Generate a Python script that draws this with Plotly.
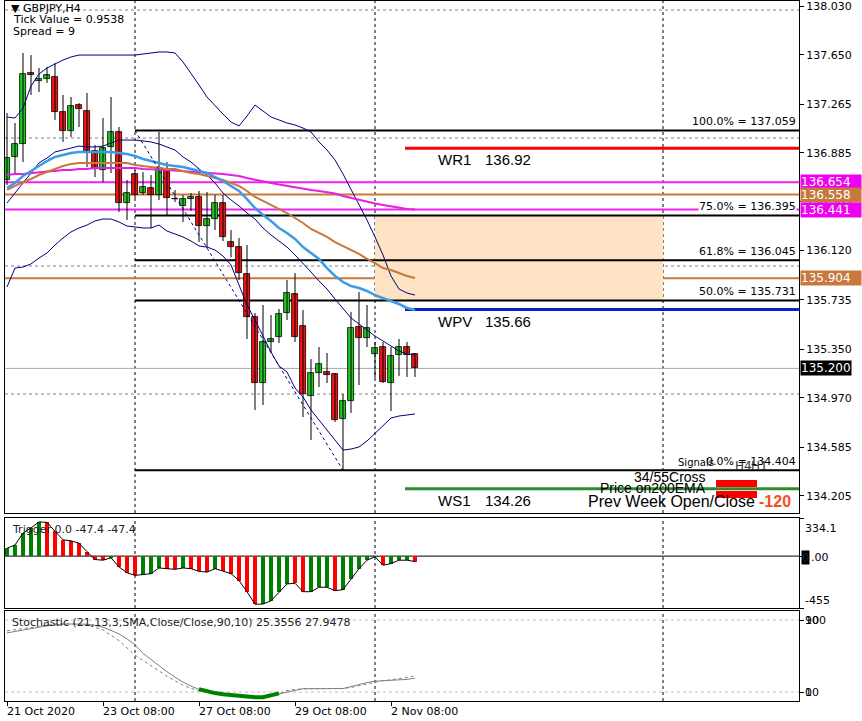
import plotly.graph_objects as go

# ---------------- data ----------------
bars = list(range(52))
time_labels = ["21 Oct 2020", "23 Oct 08:00", "27 Oct 08:00", "29 Oct 08:00", "2 Nov 08:00"]
time_label_bars = [0, 12, 24, 36, 48]
separator_bars = [16, 46, 82]

opens = [136.672, 136.852, 136.953, 137.508, 137.445, 137.461, 137.477, 137.203, 137.055, 137.258,
         137.211, 136.898, 136.750, 136.930, 137.047, 136.492, 136.719, 136.570, 136.609, 136.555,
         136.758, 136.523, 136.469, 136.523, 136.539, 136.313, 136.367, 136.492, 136.188, 136.148,
         135.938, 135.602, 135.086, 135.406, 135.445, 135.633, 135.781, 135.531, 134.984, 135.164,
         135.172, 135.156, 134.805, 134.945, 135.523, 135.438, 135.313, 135.367, 135.086, 135.305,
         135.367, 135.313]
highs = [137.195, 137.117, 137.664, 137.648, 137.547, 137.555, 137.586, 137.336, 137.320, 137.273,
         137.352, 136.945, 137.156, 137.320, 137.086, 136.672, 136.750, 136.734, 136.711, 137.047,
         136.813, 136.594, 136.555, 136.570, 136.586, 136.578, 136.555, 136.555, 136.281, 136.219,
         136.164, 135.633, 135.695, 135.617, 135.664, 135.891, 135.945, 135.656, 135.273, 135.367,
         135.320, 135.164, 135.000, 135.641, 135.797, 135.695, 135.406, 135.406, 135.367, 135.430,
         135.406, 135.320]
lows = [136.633, 136.727, 136.813, 137.336, 137.359, 137.430, 137.141, 136.969, 137.008, 137.086,
        136.773, 136.695, 136.656, 136.727, 136.422, 136.359, 136.531, 136.555, 136.297, 136.516,
        136.398, 136.500, 136.344, 136.430, 136.188, 136.141, 136.281, 136.195, 136.070, 135.891,
        135.430, 134.875, 134.914, 135.328, 135.398, 135.578, 135.406, 134.820, 134.641, 135.055,
        135.086, 134.781, 134.404, 134.852, 135.070, 135.367, 135.125, 135.086, 134.867, 135.141,
        135.133, 135.133]
closes = [136.844, 136.953, 137.500, 137.492, 137.461, 137.492, 137.203, 137.055, 137.250, 137.227,
          136.898, 136.758, 136.922, 137.047, 136.492, 136.570, 136.555, 136.617, 136.555, 136.766,
          136.531, 136.523, 136.523, 136.539, 136.313, 136.367, 136.492, 136.227, 136.148, 135.945,
          135.602, 135.086, 135.406, 135.430, 135.625, 135.789, 135.445, 135.000, 135.164, 135.234,
          135.148, 134.797, 134.945, 135.516, 135.438, 135.516, 135.359, 135.094, 135.297, 135.367,
          135.305, 135.200]

bb_upper = [137.164, 137.156, 137.234, 137.406, 137.500, 137.547, 137.578, 137.609, 137.633, 137.648,
            137.648, 137.648, 137.648, 137.648, 137.648, 137.648, 137.648, 137.656, 137.664, 137.672,
            137.672, 137.664, 137.594, 137.508, 137.414, 137.320, 137.250, 137.187, 137.125, 137.094,
            137.172, 137.258, 137.211, 137.164, 137.141, 137.117, 137.102, 137.078, 137.047, 136.969,
            136.906, 136.828, 136.719, 136.602, 136.477, 136.359, 136.227, 136.086, 135.922, 135.820,
            135.789, 135.773]
bb_middle = [136.492, 136.570, 136.641, 136.727, 136.805, 136.844, 136.891, 136.906, 136.922, 136.937,
             136.930, 136.930, 136.937, 136.961, 136.984, 136.984, 136.984, 136.977, 136.969, 136.953,
             136.930, 136.906, 136.852, 136.812, 136.758, 136.711, 136.648, 136.570, 136.516, 136.469,
             136.414, 136.367, 136.297, 136.242, 136.195, 136.148, 136.086, 136.023, 135.953, 135.883,
             135.820, 135.742, 135.664, 135.594, 135.547, 135.500, 135.453, 135.414, 135.375, 135.336,
             135.312, 135.305]
bb_lower = [135.836, 135.984, 135.992, 136.016, 136.062, 136.102, 136.164, 136.219, 136.266, 136.297,
            136.320, 136.352, 136.367, 136.367, 136.344, 136.312, 136.305, 136.297, 136.297, 136.320,
            136.273, 136.250, 136.227, 136.195, 136.156, 136.148, 136.125, 136.078, 136.008, 135.852,
            135.695, 135.578, 135.453, 135.328, 135.219, 135.172, 135.047, 134.977, 134.875, 134.797,
            134.719, 134.641, 134.562, 134.570, 134.586, 134.633, 134.695, 134.758, 134.812, 134.828,
            134.836, 134.844]
ema_blue = [136.609, 136.648, 136.703, 136.742, 136.781, 136.820, 136.852, 136.867, 136.883, 136.891,
            136.891, 136.891, 136.891, 136.891, 136.883, 136.875, 136.859, 136.836, 136.820, 136.805,
            136.789, 136.781, 136.773, 136.758, 136.742, 136.727, 136.695, 136.664, 136.625, 136.586,
            136.523, 136.453, 136.398, 136.352, 136.297, 136.258, 136.211, 136.148, 136.102, 136.055,
            135.984, 135.922, 135.875, 135.844, 135.828, 135.805, 135.773, 135.750, 135.727, 135.703,
            135.672, 135.656]
ema_orange = [136.594, 136.625, 136.656, 136.680, 136.711, 136.734, 136.758, 136.781, 136.797, 136.805,
              136.805, 136.805, 136.805, 136.805, 136.805, 136.805, 136.789, 136.781, 136.773, 136.766,
              136.758, 136.758, 136.742, 136.727, 136.719, 136.703, 136.687, 136.672, 136.648, 136.625,
              136.586, 136.539, 136.508, 136.477, 136.445, 136.414, 136.375, 136.336, 136.289, 136.258,
              136.227, 136.187, 136.156, 136.125, 136.094, 136.055, 136.023, 135.984, 135.969, 135.945,
              135.922, 135.906]
ema_magenta = [136.711, 136.719, 136.719, 136.727, 136.734, 136.738, 136.742, 136.750, 136.750, 136.758,
               136.758, 136.766, 136.766, 136.766, 136.766, 136.766, 136.766, 136.758, 136.758, 136.754,
               136.750, 136.746, 136.742, 136.738, 136.734, 136.727, 136.723, 136.719, 136.711, 136.703,
               136.687, 136.672, 136.660, 136.648, 136.637, 136.625, 136.613, 136.602, 136.594, 136.586,
               136.578, 136.566, 136.547, 136.531, 136.516, 136.500, 136.488, 136.477, 136.465, 136.453,
               136.445, 136.441]

price_ticks = [138.030, 137.650, 137.265, 136.885, 136.505, 136.120, 135.735, 135.350, 134.970, 134.585, 134.205]
grid_prices = [138.0, 137.0, 136.0, 135.0]

fib_names = ["100.0%", "75.0%", "61.8%", "50.0%", "0.0%"]
fib_values = [137.059, 136.395, 136.045, 135.731, 134.404]
fib_anchor_bars = [16, 42]
fib_box_bars = [46, 82]
fib_box_prices = [136.395, 135.731]

pivot_names = ["WR1", "WPV", "WS1"]
pivot_values = [136.92, 135.66, 134.26]
pivot_start_bar = 49.75

level_values = [136.654, 136.558, 136.441, 135.904]
current_price = 135.200

trigger = [68, 98, 202, 247, 300, 296, 217, 143, 134, 113,
           39, -30, -36, -15, -95, -146, -169, -163, -154, -104,
           -110, -116, -104, -110, -134, -140, -110, -134, -154, -214,
           -312, -422, -420, -392, -318, -244, -238, -312, -312, -273,
           -273, -303, -294, -199, -110, -36, -6, -80, -65, -36,
           -36, -47.4]
trigger_up = [1, 1, 1, 1, 1, 0, 0, 0, 0, 0,
              0, 0, 0, 1, 0, 0, 0, 1, 1, 1,
              0, 0, 1, 0, 0, 0, 1, 0, 0, 0,
              0, 0, 1, 1, 1, 1, 0, 0, 1, 1,
              1, 0, 1, 1, 1, 1, 1, 0, 1, 1,
              1, 0]
trigger_range = [-455, 334.1]

stoch_main = [75.6, 77, 78.5, 80.5, 82, 83.5, 84.5, 85.3, 85.5, 85.5,
              85.3, 84, 82, 78.5, 74.5, 69, 62.5, 53, 46, 39.5,
              32.5, 26.5, 21, 16.5, 13, 10.5, 8.8, 7.5, 6.6, 5.6,
              4.8, 4.2, 4.1, 6, 8.5, 10.5, 12.5, 13.6, 13.7, 13.7,
              13.7, 13.7, 13.8, 16, 18.3, 20.5, 22, 22.4, 22.6, 23,
              24, 25.3556]
stoch_signal = [78, 79, 80, 81.5, 83, 84.5, 85.5, 86, 86, 85.5,
                84.5, 82, 79, 73, 67, 59, 51, 45, 39.5, 33.5,
                27.4, 22, 17.5, 14, 11.5, 10, 9, 7.8, 6.8, 5.9,
                5.2, 4.6, 4.4, 5.5, 8, 11.5, 13, 13.7, 13.7, 13.7,
                13.7, 13.8, 14, 15, 17, 19.5, 21.5, 22.8, 23.5, 24.5,
                26.2, 27.9478]
stoch_oversold = [0] * 24 + [1] * 11 + [0] * 17
stoch_levels = [90, 10]

# ---------------- layout constants ----------------
W, H = 862, 721
ML, MR, MT, MB = 5, 63, 1, 20
PW, PH = W - ML - MR, H - MT - MB
X_RANGE = [-0.25, 99.0]
MAIN_DOM = [(701 - 513) / 700, 1.0]
SUB1_DOM = [(701 - 608) / 700, (701 - 518) / 700]
SUB2_DOM = [0.0, (701 - 611) / 700]
Y_MAIN = [134.0703, 138.0703]

FONT = "DejaVu Sans"
ARIAL = "Liberation Sans"

GREEN_C = "#22c822"
RED_C = "#f01414"
FINE_DASH = "3px,3px"


def px(xp):
    return (xp - ML) / PW


def py(yp):
    return (MT + PH - yp) / PH


fig = go.Figure()

# candle wicks
wx, wy = [], []
for i in bars:
    wx += [i, i, None]
    wy += [lows[i], highs[i], None]
fig.add_trace(go.Scatter(x=wx, y=wy, mode="lines", line=dict(color="black", width=1),
                         hoverinfo="skip", showlegend=False, xaxis="x", yaxis="y"))

# indicator lines on the main chart
for series in (bb_upper, bb_middle, bb_lower):
    fig.add_trace(go.Scatter(x=bars, y=series, mode="lines", line=dict(color="#000080", width=1),
                             showlegend=False, xaxis="x", yaxis="y"))
fig.add_trace(go.Scatter(x=bars, y=ema_magenta, mode="lines", line=dict(color="#e61ee6", width=2),
                         showlegend=False, xaxis="x", yaxis="y"))
fig.add_trace(go.Scatter(x=bars, y=ema_orange, mode="lines", line=dict(color="#c8783c", width=2),
                         showlegend=False, xaxis="x", yaxis="y"))
fig.add_trace(go.Scatter(x=bars, y=ema_blue, mode="lines", line=dict(color="#3c9be6", width=2.5),
                         showlegend=False, xaxis="x", yaxis="y"))
# fibo trend line (dotted)
fig.add_trace(go.Scatter(x=fib_anchor_bars, y=[fib_values[0], fib_values[-1]], mode="lines",
                         line=dict(color="#000080", width=1, dash=FINE_DASH),
                         showlegend=False, xaxis="x", yaxis="y"))

# candle bodies
up_x, up_b, up_h, dn_x, dn_b, dn_h = [], [], [], [], [], []
for i in bars:
    lo, hi = min(opens[i], closes[i]), max(opens[i], closes[i])
    h = max(hi - lo, 0.003)
    if closes[i] > opens[i]:
        up_x.append(i); up_b.append(lo); up_h.append(h)
    else:
        dn_x.append(i); dn_b.append(lo); dn_h.append(h)
fig.add_trace(go.Bar(x=up_x, y=up_h, base=up_b, width=0.66, marker=dict(color=GREEN_C, line=dict(color="black", width=0.8)),
                     showlegend=False, xaxis="x", yaxis="y"))
fig.add_trace(go.Bar(x=dn_x, y=dn_h, base=dn_b, width=0.66, marker=dict(color=RED_C, line=dict(color="black", width=0.8)),
                     showlegend=False, xaxis="x", yaxis="y"))

# ---- Trigger histogram ----
gx = [i for i in bars if trigger_up[i]]
rx = [i for i in bars if not trigger_up[i]]
fig.add_trace(go.Bar(x=gx, y=[trigger[i] for i in gx], width=0.42, marker=dict(color="#008000", line=dict(width=0)),
                     showlegend=False, xaxis="x2", yaxis="y2"))
fig.add_trace(go.Bar(x=rx, y=[trigger[i] for i in rx], width=0.42, marker=dict(color="#ff0000", line=dict(width=0)),
                     showlegend=False, xaxis="x2", yaxis="y2"))
fig.add_trace(go.Scatter(x=bars, y=trigger, mode="lines", line=dict(color="black", width=1),
                         showlegend=False, xaxis="x2", yaxis="y2"))

# ---- Stochastic ----
fig.add_trace(go.Scatter(x=bars, y=stoch_signal, mode="lines", line=dict(color="#808080", width=1, dash=FINE_DASH),
                         showlegend=False, xaxis="x3", yaxis="y3"))
fig.add_trace(go.Scatter(x=bars, y=stoch_main, mode="lines", line=dict(color="#808080", width=1),
                         showlegend=False, xaxis="x3", yaxis="y3"))
fig.add_trace(go.Scatter(x=bars, y=[v if f else None for v, f in zip(stoch_main, stoch_oversold)], mode="lines",
                         line=dict(color="#008000", width=4), showlegend=False, xaxis="x3", yaxis="y3"))

shapes = []
# fib zone rectangle
shapes.append(dict(type="rect", xref="x", yref="y", x0=fib_box_bars[0], x1=fib_box_bars[1],
                   y0=fib_box_prices[1], y1=fib_box_prices[0], fillcolor="#fde2c4", line=dict(width=0), layer="below"))
# grid
for g in grid_prices:
    shapes.append(dict(type="line", xref="x domain", yref="y", x0=0, x1=1, y0=g, y1=g,
                       line=dict(color="#808080", width=1, dash=FINE_DASH), layer="below"))
for s in separator_bars:
    for xr, yr in (("x", "y domain"), ("x2", "y2 domain"), ("x3", "y3 domain")):
        shapes.append(dict(type="line", xref=xr, yref=yr, x0=s, x1=s, y0=0, y1=1,
                           line=dict(color="black", width=1, dash=FINE_DASH), layer="below"))
# current price
shapes.append(dict(type="line", xref="x domain", yref="y", x0=0, x1=1, y0=current_price, y1=current_price,
                   line=dict(color="#a8a8a8", width=1), layer="below"))
# horizontal levels
level_cols = ["#f020f0", "#c8783c", "#f020f0", "#c8783c"]
for v, c in zip(level_values, level_cols):
    shapes.append(dict(type="line", xref="x domain", yref="y", x0=0, x1=1, y0=v, y1=v,
                       line=dict(color=c, width=2), layer="below"))
# fib levels
for v in fib_values:
    shapes.append(dict(type="line", xref="x", yref="y", x0=fib_anchor_bars[0], x1=X_RANGE[1], y0=v, y1=v,
                       line=dict(color="black", width=2), layer="below"))
# pivots
pivot_cols = ["#ff0000", "#0a1ed2", "#2e8b2e"]
for v, c in zip(pivot_values, pivot_cols):
    shapes.append(dict(type="line", xref="x", yref="y", x0=pivot_start_bar, x1=X_RANGE[1], y0=v, y1=v,
                       line=dict(color=c, width=3), layer="below"))
# trigger zero line
shapes.append(dict(type="line", xref="x2 domain", yref="y2", x0=0, x1=1, y0=0, y1=0,
                   line=dict(color="black", width=1), layer="below"))
# stoch levels
for lv in stoch_levels:
    shapes.append(dict(type="line", xref="x3 domain", yref="y3", x0=0, x1=1, y0=lv, y1=lv,
                       line=dict(color="#c0c0c0", width=1, dash=FINE_DASH), layer="below"))
# signal boxes
shapes.append(dict(type="rect", xref="paper", yref="paper", x0=px(716), x1=px(757), y0=py(487), y1=py(480),
                   fillcolor="#ff0000", line=dict(width=0), layer="above"))
shapes.append(dict(type="rect", xref="paper", yref="paper", x0=px(716), x1=px(757), y0=py(498), y1=py(491),
                   fillcolor="#ff0000", line=dict(width=0), layer="above"))

ann = []


def text_at(xp, yp, t, size=11, color="black", anchor="left", family=FONT, bg=None, bold=False):
    d = dict(xref="paper", yref="paper", x=px(xp), y=py(yp), text=("<b>%s</b>" % t) if bold else t,
             showarrow=False, xanchor=anchor, yanchor="middle", font=dict(family=family, size=size, color=color))
    if bg:
        d["bgcolor"] = bg
        d["borderpad"] = 0
    ann.append(d)


# top-left info
text_at(9, 8, "▼ GBPJPY,H4")
text_at(11, 20, "Tick Value = 0.9538")
text_at(11, 32, "Spread = 9")

# fib labels
for n, v in zip(fib_names, fib_values):
    d = dict(xref="x domain", yref="y", x=1, y=v, xanchor="right", yanchor="bottom", xshift=-2, yshift=1,
             text="%s = %.3f" % (n, v), showarrow=False, borderpad=0,
             font=dict(family=FONT, size=11, color="black"))
    if n != "0.0%":
        d["bgcolor"] = "white"
    ann.append(d)

# pivot labels
for n, v in zip(pivot_names, pivot_values):
    ann.append(dict(xref="x", yref="y", x=pivot_start_bar + 3.9, y=v, xanchor="left", yanchor="top", yshift=-1,
                    text=n, showarrow=False, font=dict(family=ARIAL, size=15, color="black")))
    ann.append(dict(xref="x", yref="y", x=pivot_start_bar + 9.7, y=v, xanchor="left", yanchor="top", yshift=-1,
                    text="%.2f" % v, showarrow=False, font=dict(family=ARIAL, size=15, color="black")))

# right price boxes
box_cols = ["#f000f0", "#c8783c", "#f000f0", "#c8783c"]
for v, c in zip(level_values, box_cols):
    ann.append(dict(xref="x domain", yref="y", x=1, y=v, xanchor="left", yanchor="middle", xshift=1,
                    text="%.3f" % v, showarrow=False, bgcolor=c, borderpad=0, width=60, height=14, align="left",
                    font=dict(family=FONT, size=12, color="white")))
ann.append(dict(xref="x domain", yref="y", x=1, y=current_price, xanchor="left", yanchor="middle", xshift=1,
                text="%.3f" % current_price, showarrow=False, bgcolor="black", borderpad=0, width=50, height=14,
                align="left", font=dict(family=FONT, size=12, color="white")))

# signals block
text_at(676, 462, "Signals", size=10)
text_at(733, 466, "H4", size=12, color="#333333")
text_at(749, 466, "H1", size=12, color="#333333")
text_at(708, 477, "34/55Cross", size=14, anchor="right", family=ARIAL)
text_at(708, 488, "Price on200EMA", size=14, anchor="right", family=ARIAL)
text_at(757, 501, "Prev Week Open/Close", size=16, anchor="right", family=ARIAL)
text_at(757, 501, "-120", size=16, color="#f0501e", family=ARIAL, bold=True)

# sub-window labels
text_at(10, 529, "Trigger 0.0 -47.4 -47.4", color="#222222")
text_at(10, 622, "Stochastic (21,13,3,SMA,Close/Close,90,10) 25.3556 27.9478", color="#222222")
text_at(803, 528, "334.1")
text_at(801, 557, "0", color="#222222", bg="black")
text_at(809, 557, ".00")
text_at(803, 600, "-455")
text_at(803, 620, "100")
text_at(803, 620, "90")
text_at(803, 692, "10")
text_at(803, 692, "0")

# time labels
for b, t in zip(time_label_bars, time_labels):
    ann.append(dict(xref="x3", yref="paper", x=b, y=py(711), xanchor="left", yanchor="middle", xshift=-2,
                    text=t, showarrow=False, font=dict(family=FONT, size=11, color="black")))

axis_common = dict(showgrid=False, zeroline=False, showline=True, linecolor="black", linewidth=1, mirror=True)

fig.update_layout(
    width=W, height=H, margin=dict(l=ML, r=MR, t=MT, b=MB),
    paper_bgcolor="white", plot_bgcolor="white", barmode="overlay", bargap=0,
    showlegend=False, hovermode=False,
    shapes=shapes, annotations=ann,
    xaxis=dict(range=X_RANGE, anchor="y", showticklabels=False, ticks="", **axis_common),
    xaxis2=dict(range=X_RANGE, anchor="y2", matches="x", showticklabels=False, ticks="", **axis_common),
    xaxis3=dict(range=X_RANGE, anchor="y3", matches="x", showticklabels=False, ticks="outside", ticklen=4,
                tickvals=time_label_bars, tickcolor="black", **axis_common),
    yaxis=dict(domain=MAIN_DOM, range=Y_MAIN, side="right", anchor="x", tickvals=price_ticks,
               ticktext=["%.3f" % v for v in price_ticks], ticks="outside", ticklen=4, tickcolor="black",
               tickfont=dict(family=FONT, size=11, color="black"), **axis_common),
    yaxis2=dict(domain=SUB1_DOM, range=trigger_range, side="right", anchor="x2", tickvals=[334.1, 0, -455],
                showticklabels=False, ticks="outside", ticklen=4, tickcolor="black", **axis_common),
    yaxis3=dict(domain=SUB2_DOM, range=[0, 100], side="right", anchor="x3", tickvals=[90, 10],
                showticklabels=False, ticks="outside", ticklen=4, tickcolor="black", **axis_common),
)

fig.write_html("out.html", config={"displayModeBar": False},
               post_script="document.body.style.margin='0px';document.body.style.overflow='hidden';")
